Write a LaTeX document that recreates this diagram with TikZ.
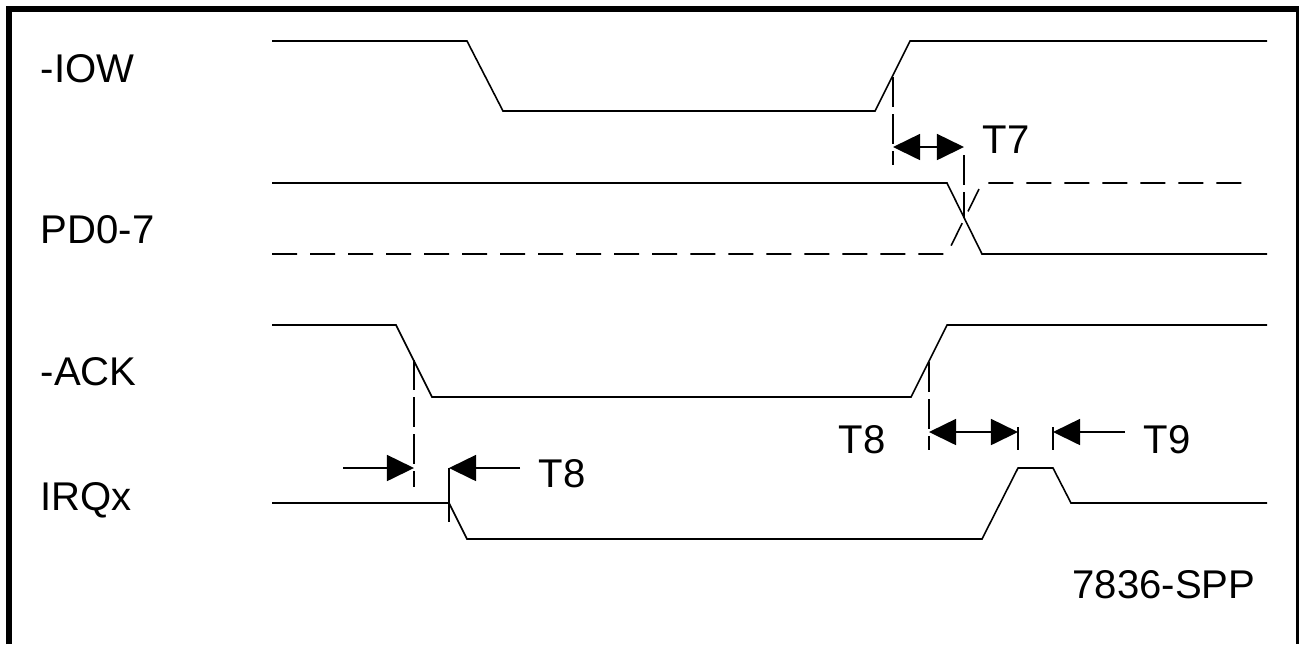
\documentclass[tikz,border=0pt]{standalone}
\usepackage{fontspec}
\setmainfont{Liberation Sans}
\usetikzlibrary{arrows.meta}

\tikzset{
  sig/.style={line width=0.45pt},
  sigdash/.style={line width=0.45pt, dash pattern=on 0.25cm off 0.13cm},
  guide/.style={line width=0.45pt, dash pattern=on 0.3cm off 0.07cm},
  dimto/.style={line width=0.45pt, -{Triangle[length=0.27cm,width=0.26cm]}},
  dimboth/.style={line width=0.45pt, {Triangle[length=0.27cm,width=0.26cm]}-{Triangle[length=0.27cm,width=0.26cm]}},
  lbl/.style={anchor=base west, inner sep=0pt, font=\fontsize{11.4}{13}\selectfont}
}

\begin{document}
\begin{tikzpicture}[x=0.01cm,y=-0.01cm]
\useasboundingbox (0,0) rectangle (1299,644);
\draw[line width=0.06cm] (9,644)--(9,9)--(1299,9)--(1299,644);
% signal names
\foreach \n/\name/\y in {iow/-IOW/82,pd/PD0-7/243,ack/-ACK/385,irq/IRQx/510}{
  \node[lbl] (\n) at (40,\y) {\name};
}
% waveforms
\draw[sig] (272,41)--(467,41)--(503,111)--(875,111)--(910,41)--(1267,41);
\draw[sig] (272,183)--(947,183)--(982,254)--(1267,254);
\draw[sigdash] (272,254)--(947,254)--(982,183)--(1253,183);
\draw[sig] (272,325)--(396,325)--(432,397)--(911,397)--(947,325)--(1267,325);
\draw[sig] (272,503)--(449,503)--(467,539)--(982,539)--(1018,468)--(1053,468)--(1071,503)--(1267,503);
% guide lines
\draw[guide] (893,77)--(893,165);
\draw[guide] (964,155)--(964,218);
\draw[guide] (414,360)--(414,487);
\draw[guide] (929,362)--(929,450);
\draw[sig] (449,468)--(449,522);
\draw[sig] (1018,427)--(1018,450);
\draw[sig] (1053,427)--(1053,450);
% timing arrows
\coordinate (t7l) at (893,147);
\coordinate (t7r) at (964,147);
\coordinate (t8in) at (343,468);
\coordinate (t8a) at (414,468);
\coordinate (t8b) at (449,468);
\coordinate (t8out) at (520,468);
\coordinate (t8l) at (929,432);
\coordinate (t8r) at (1018,432);
\coordinate (t9a) at (1053,432);
\coordinate (t9out) at (1125,432);
\draw[dimboth] (t7l)--(t7r);
\draw[dimto] (t8in)--(t8a);
\draw[dimto] (t8out)--(t8b);
\draw[dimboth] (t8l)--(t8r);
\draw[dimto] (t9out)--(t9a);
% timing names
\node[lbl] (T7) at (982,153) {T7};
\node[lbl] (T8a) at (538,487) {T8};
\node[lbl] (T8b) at (838,453) {T8};
\node[lbl] (T9) at (1143,453) {T9};
\node[lbl] (fig) at (1072,598) {7836-SPP};
\end{tikzpicture}
\end{document}
